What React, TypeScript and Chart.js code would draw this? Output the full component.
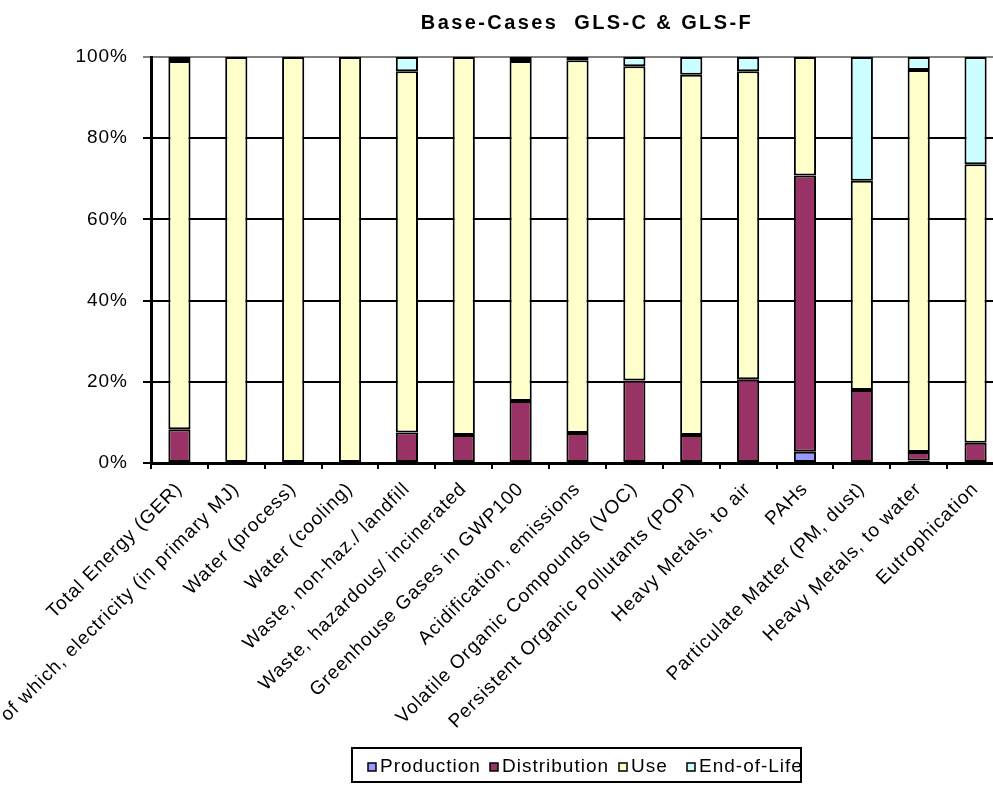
import React, { useEffect, useRef } from "react";
import { Chart, registerables } from "chart.js";

Chart.register(...registerables);

// Impact categories along the x axis
const categories: string[] = [
  "Total Energy (GER)",
  "of which, electricity (in primary MJ)",
  "Water (process)",
  "Water (cooling)",
  "Waste, non-haz./ landfill",
  "Waste, hazardous/ incinerated",
  "Greenhouse Gases in GWP100",
  "Acidification, emissions",
  "Volatile Organic Compounds (VOC)",
  "Persistent Organic Pollutants (POP)",
  "Heavy Metals, to air",
  "PAHs",
  "Particulate Matter (PM, dust)",
  "Heavy Metals, to water",
  "Eutrophication",
];

// Share of each life-cycle phase, in percent
const production: number[] = [0, 0, 0, 0, 0, 0, 0, 0, 0, 0, 0, 2.8, 0, 0.6, 0];
const distribution: number[] = [8.3, 0, 0, 0, 7.5, 6.9, 15.3, 7.4, 20.3, 6.9, 20.6, 68.0, 18.0, 2.1, 5.0];
const use: number[] = [90.7, 100, 100, 100, 89.0, 93.1, 83.7, 91.8, 77.4, 88.7, 75.9, 29.2, 51.5, 94.1, 68.6];
const endOfLife: number[] = [1.0, 0, 0, 0, 3.5, 0, 1.0, 0.8, 2.3, 4.4, 3.5, 0, 30.5, 3.2, 26.4];

const yTicks: number[] = [0, 20, 40, 60, 80, 100];

const title = "Base-Cases  GLS-C & GLS-F";
const seriesNames = ["Production", "Distribution", "Use", "End-of-Life"];
const seriesColors = ["#9999FF", "#993366", "#FFFFCC", "#CCFFFF"];

const FONT = "Arial, 'Liberation Sans', sans-serif";

// legend marker positions inside the framed legend
const legendMarkerX = [368, 490, 619, 687];

const decorPlugin = {
  id: "decor",
  beforeDraw(chart: Chart) {
    (chart.ctx as any).letterSpacing = "1px";
  },
  afterDraw(chart: Chart) {
    const ctx = chart.ctx;
    ctx.save();
    // title
    (ctx as any).letterSpacing = "2.4px";
    ctx.fillStyle = "#000";
    ctx.font = `bold 20px ${FONT}`;
    ctx.textAlign = "center";
    ctx.textBaseline = "alphabetic";
    ctx.fillText(title, 587, 29);

    // legend box
    (ctx as any).letterSpacing = "1px";
    ctx.font = `19px ${FONT}`;
    ctx.textAlign = "left";
    ctx.textBaseline = "middle";
    const boxX = 352, boxY = 748, boxW = 449, boxH = 34;
    ctx.fillStyle = "#fff";
    ctx.fillRect(boxX, boxY, boxW, boxH);
    ctx.lineWidth = 2;
    ctx.strokeStyle = "#000";
    ctx.strokeRect(boxX, boxY, boxW, boxH);
    const cy = boxY + boxH / 2 + 2;
    seriesNames.forEach((name, i) => {
      const x = legendMarkerX[i];
      ctx.fillStyle = seriesColors[i];
      ctx.fillRect(x, cy - 4, 8, 8);
      ctx.lineWidth = 1.5;
      ctx.strokeStyle = "#000";
      ctx.strokeRect(x, cy - 4, 8, 8);
      ctx.fillStyle = "#000";
      ctx.fillText(name, x + 12, cy);
    });
    ctx.restore();
  },
};

export default function App() {
  const ref = useRef<HTMLCanvasElement | null>(null);

  useEffect(() => {
    if (!ref.current) return;
    const datasets = [production, distribution, use, endOfLife].map((data, i) => ({
      label: seriesNames[i],
      // empty segments are left out so they draw no outline
      data: data.map((v) => (v === 0 ? null : v)),
      backgroundColor: seriesColors[i],
      borderColor: "#000",
      borderWidth: 2,
      borderSkipped: false as const,
      barPercentage: 0.39,
      categoryPercentage: 1,
    }));
    const chart = new Chart(ref.current, {
      type: "bar",
      data: { labels: categories, datasets },
      options: {
        animation: false,
        responsive: false,
        devicePixelRatio: 1,
        layout: { padding: { top: 57, left: 0, right: 6, bottom: 56 } },
        plugins: {
          legend: { display: false },
          title: { display: false },
          tooltip: { enabled: false },
        },
        scales: {
          x: {
            stacked: true,
            offset: true,
            grid: {
              drawOnChartArea: false,
              drawTicks: true,
              tickLength: 6,
              color: "#000",
              lineWidth: 2,
            },
            border: { display: true, color: "#000", width: 3 },
            ticks: {
              autoSkip: false,
              minRotation: 45,
              maxRotation: 45,
              padding: 9,
              color: "#000",
              font: { family: FONT, size: 19 },
            },
            afterFit: (scale: any) => {
              scale.height = 270;
            },
          },
          y: {
            stacked: true,
            min: 0,
            max: 100,
            afterBuildTicks: (scale: any) => {
              scale.ticks = yTicks.map((v) => ({ value: v }));
            },
            grid: {
              color: (c: any) => (c.tick && c.tick.value === 100 ? "#808080" : "#000"),
              lineWidth: 2,
              tickLength: 8,
              drawTicks: true,
            },
            border: { display: true, color: "#000", width: 3 },
            ticks: {
              padding: 15,
              color: "#000",
              font: { family: FONT, size: 19 },
              callback: (v: any) => `${v}%`,
            },
            afterFit: (scale: any) => {
              scale.width = 151;
            },
          },
        },
      },
      plugins: [decorPlugin],
    });
    return () => chart.destroy();
  }, []);

  return (
    <div
      style={{
        position: "absolute",
        left: 0,
        top: 0,
        width: 993,
        height: 789,
        overflow: "hidden",
        background: "#fff",
      }}
    >
      <canvas ref={ref} width={1010} height={789} style={{ display: "block", width: 1010, height: 789 }} />
    </div>
  );
}
